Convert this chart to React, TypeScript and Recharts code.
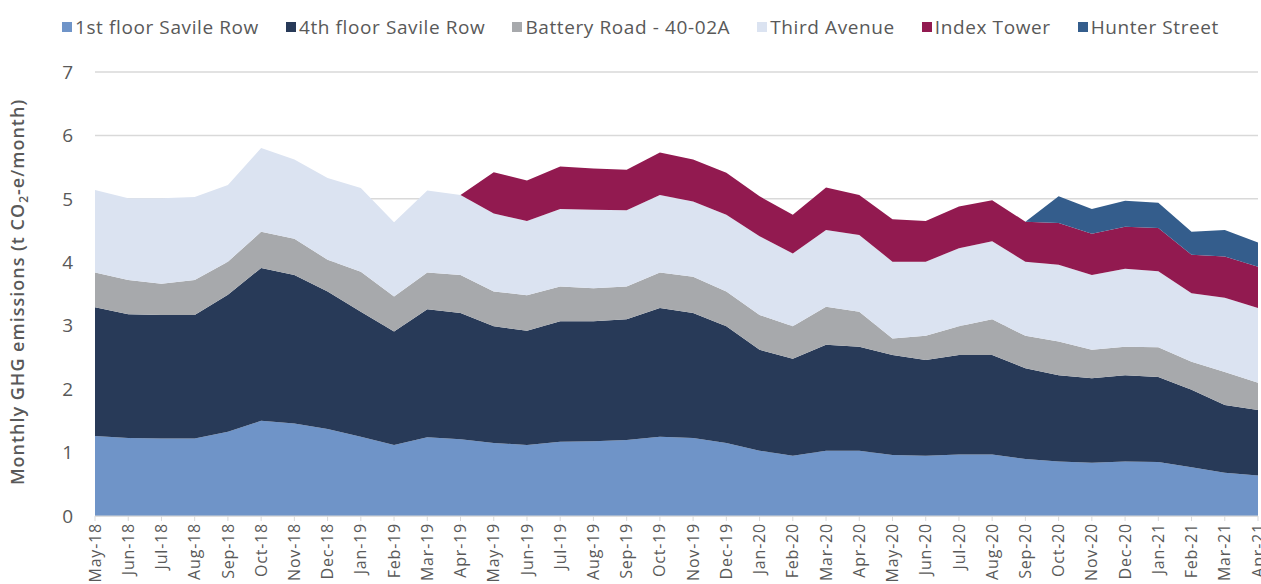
import React from 'react';
import { AreaChart, Area, XAxis, YAxis, CartesianGrid } from 'recharts';

const months = [
  'May-18', 'Jun-18', 'Jul-18', 'Aug-18', 'Sep-18', 'Oct-18', 'Nov-18', 'Dec-18',
  'Jan-19', 'Feb-19', 'Mar-19', 'Apr-19', 'May-19', 'Jun-19', 'Jul-19', 'Aug-19',
  'Sep-19', 'Oct-19', 'Nov-19', 'Dec-19', 'Jan-20', 'Feb-20', 'Mar-20', 'Apr-20',
  'May-20', 'Jun-20', 'Jul-20', 'Aug-20', 'Sep-20', 'Oct-20', 'Nov-20', 'Dec-20',
  'Jan-21', 'Feb-21', 'Mar-21', 'Apr-21',
];

const firstFloor = [
  1.26, 1.23, 1.22, 1.22, 1.33, 1.5, 1.46, 1.37, 1.25, 1.12, 1.24, 1.21,
  1.15, 1.12, 1.17, 1.18, 1.2, 1.25, 1.23, 1.15, 1.03, 0.95, 1.03, 1.03,
  0.96, 0.95, 0.97, 0.97, 0.9, 0.86, 0.84, 0.86, 0.85, 0.77, 0.68, 0.64,
];

const fourthFloor = [
  2.03, 1.95, 1.95, 1.95, 2.16, 2.41, 2.34, 2.17, 1.97, 1.79, 2.02, 1.99,
  1.84, 1.8, 1.9, 1.89, 1.9, 2.03, 1.97, 1.84, 1.59, 1.53, 1.67, 1.64,
  1.58, 1.51, 1.57, 1.57, 1.43, 1.36, 1.33, 1.36, 1.34, 1.22, 1.07, 1.03,
];

const batteryRoad = [
  0.55, 0.54, 0.49, 0.55, 0.52, 0.57, 0.57, 0.5, 0.63, 0.55, 0.58, 0.6,
  0.55, 0.56, 0.55, 0.52, 0.52, 0.56, 0.57, 0.55, 0.55, 0.51, 0.6, 0.55,
  0.26, 0.38, 0.45, 0.56, 0.51, 0.53, 0.45, 0.45, 0.47, 0.44, 0.52, 0.43,
];

const thirdAvenue = [
  1.3, 1.29, 1.35, 1.31, 1.21, 1.32, 1.25, 1.29, 1.32, 1.17, 1.29, 1.26,
  1.23, 1.17, 1.22, 1.24, 1.2, 1.22, 1.19, 1.21, 1.24, 1.15, 1.21, 1.21,
  1.21, 1.17, 1.23, 1.23, 1.17, 1.21, 1.18, 1.23, 1.2, 1.08, 1.17, 1.18,
];

const indexTower = [
  0, 0, 0, 0, 0, 0, 0, 0, 0, 0, 0, 0,
  0.65, 0.64, 0.67, 0.65, 0.64, 0.67, 0.66, 0.66, 0.63, 0.61, 0.67, 0.63,
  0.67, 0.64, 0.66, 0.65, 0.63, 0.66, 0.65, 0.66, 0.68, 0.61, 0.65, 0.65,
];

const hunterStreet = [
  0, 0, 0, 0, 0, 0, 0, 0, 0, 0, 0, 0,
  0, 0, 0, 0, 0, 0, 0, 0, 0, 0, 0, 0,
  0, 0, 0, 0, 0, 0.42, 0.39, 0.41, 0.4, 0.36, 0.42, 0.38,
];

const yTicks = [0, 1, 2, 3, 4, 5, 6, 7];

const series = [
  { key: 'firstFloor', name: '1st floor Savile Row', color: '#6f94c8', values: firstFloor },
  { key: 'fourthFloor', name: '4th floor Savile Row', color: '#283a58', values: fourthFloor },
  { key: 'batteryRoad', name: 'Battery Road - 40-02A', color: '#a7a9ac', values: batteryRoad },
  { key: 'thirdAvenue', name: 'Third Avenue', color: '#dbe3f1', values: thirdAvenue },
  { key: 'indexTower', name: 'Index Tower', color: '#921a50', values: indexTower },
  { key: 'hunterStreet', name: 'Hunter Street', color: '#345d8c', values: hunterStreet },
];

const data = months.map((m, i) => {
  const row: Record<string, string | number> = { month: m };
  series.forEach((s) => {
    row[s.key] = s.values[i];
  });
  return row;
});

const FONT = '"Open Sans", sans-serif';
const TEXT = '#595959';

const MonthTick = (props: any) => {
  const { x, y, payload } = props;
  return (
    <g transform={`translate(${x},${y})`}>
      <text
        x={0}
        y={0}
        dy="0.35em"
        textAnchor="end"
        transform="rotate(-90)"
        fontSize={16}
        letterSpacing={0.8}
        fontFamily={FONT}
        fill={TEXT}
      >
        {payload.value}
      </text>
    </g>
  );
};

const YLabel = () => (
  <text
    transform="translate(24,292) rotate(-90)"
    textAnchor="middle"
    fontSize={18}
    letterSpacing={1}
    fontWeight={600}
    fontFamily={FONT}
    fill={TEXT}
  >
    <tspan>Monthly GHG emissions (t CO</tspan>
    <tspan fontSize={12} dy={4}>2</tspan>
    <tspan dy={-4}>-e/month)</tspan>
  </text>
);

export default function App() {
  return (
    <div style={{ position: 'fixed', left: 0, top: 0, width: 1261, height: 640, background: '#fff' }}>
      <div
        style={{
          position: 'absolute',
          top: 14,
          left: 62,
          display: 'flex',
          gap: 27,
          fontFamily: FONT,
          fontSize: 19,
          letterSpacing: 0.6,
          color: TEXT,
          whiteSpace: 'nowrap',
        }}
      >
        {series.map((s) => (
          <div key={s.key} style={{ display: 'flex', alignItems: 'center' }}>
            <span style={{ width: 10, height: 10, background: s.color, marginRight: 3 }} />
            {s.name}
          </div>
        ))}
      </div>
      <AreaChart
        width={1261}
        height={640}
        data={data}
        margin={{ top: 72, right: 3, left: 0, bottom: 0 }}
      >
        <CartesianGrid vertical={false} stroke="#d9d9d9" strokeWidth={1.5} />
        <XAxis
          dataKey="month"
          interval={0}
          padding={{ left: 0, right: 0 }}
          tick={<MonthTick />}
          tickSize={5}
          tickMargin={2}
          stroke="#d9d9d9"
          height={124}
        />
        <YAxis
          domain={[0, 7]}
          ticks={yTicks}
          width={95}
          axisLine={false}
          tickLine={false}
          tickSize={0}
          tickMargin={22}
          tick={{ fontSize: 19, fill: TEXT, fontFamily: FONT }}
          label={<YLabel />}
        />
        {series.map((s) => (
          <Area
            key={s.key}
            type="linear"
            dataKey={s.key}
            name={s.name}
            stackId="1"
            stroke="none"
            fill={s.color}
            fillOpacity={1}
            isAnimationActive={false}
          />
        ))}
      </AreaChart>
    </div>
  );
}
